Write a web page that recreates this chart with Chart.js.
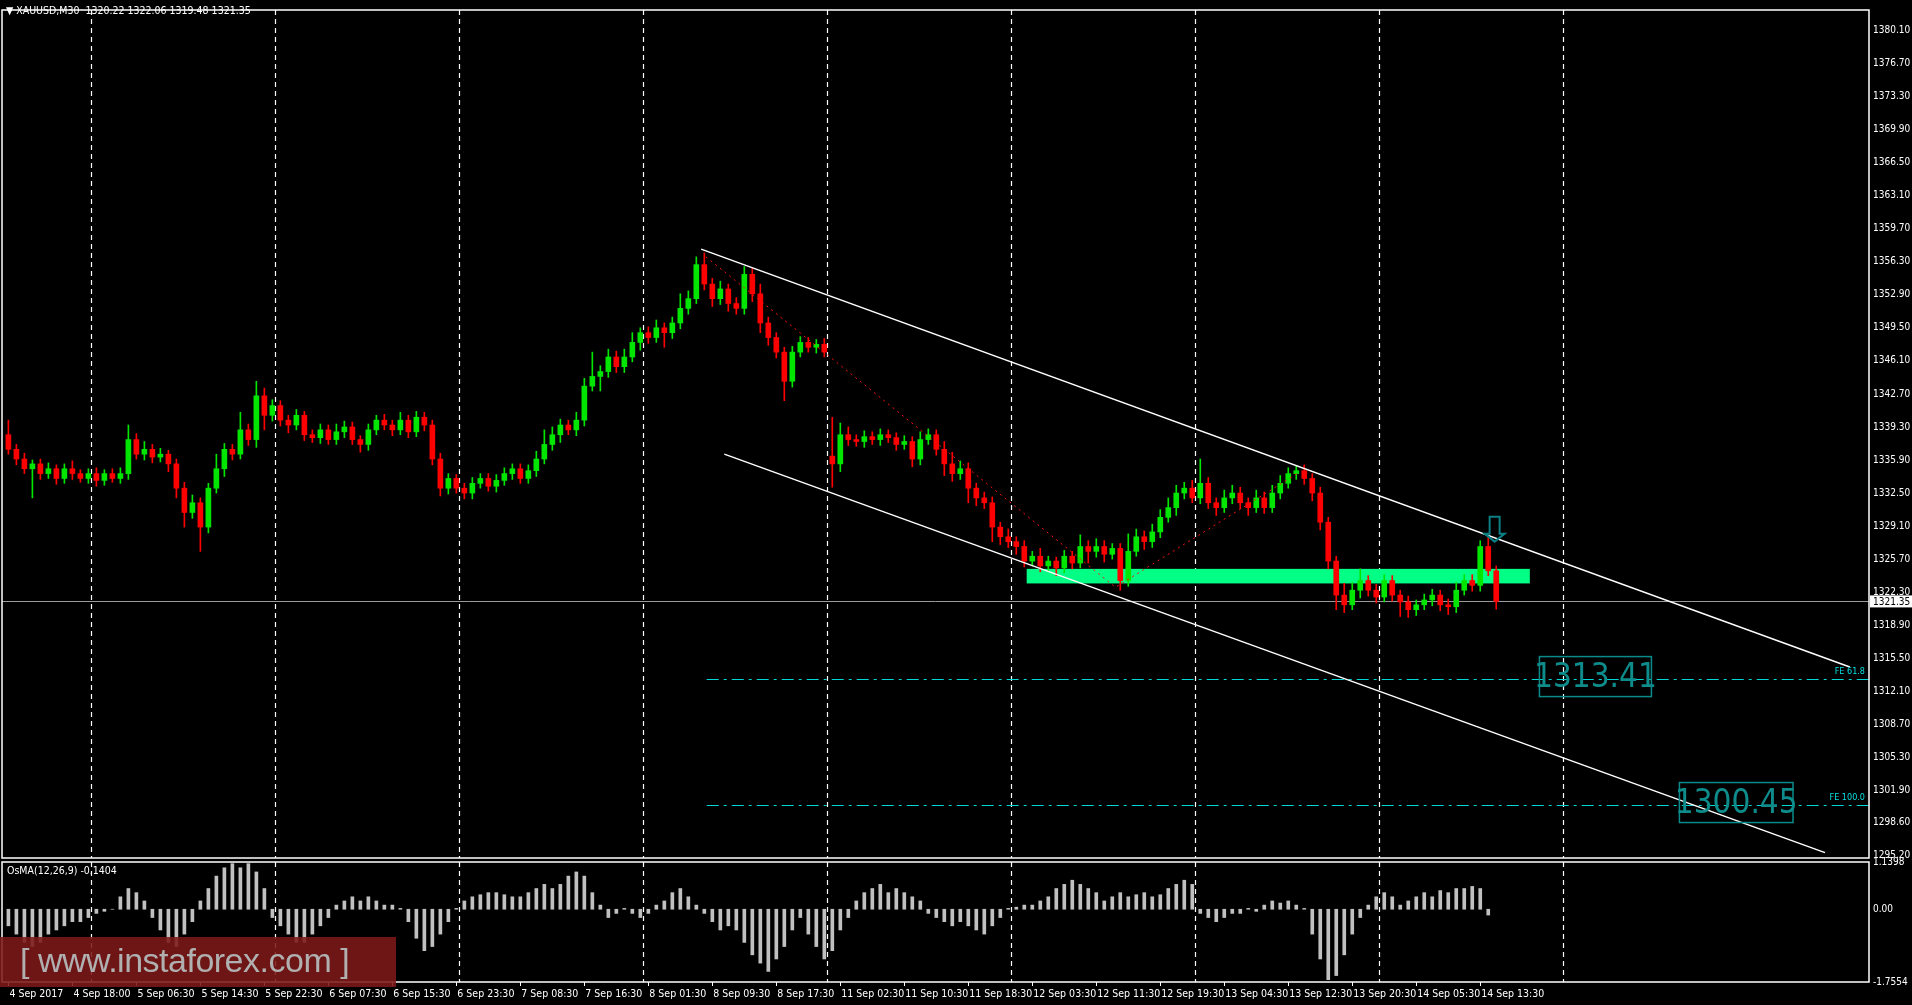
<!DOCTYPE html>
<html><head><meta charset="utf-8">
<script src="https://cdn.jsdelivr.net/npm/chart.js@4/dist/chart.umd.min.js"></script>
<style>
html,body{margin:0;padding:0;background:#000;width:1912px;height:1005px;overflow:hidden;font-family:"DejaVu Sans Condensed","DejaVu Sans",sans-serif}
#c1{position:absolute;left:0;top:0}
#c2{position:absolute;left:0;top:852px}
#hdr{position:absolute;left:6px;top:4px;color:#fff;font-size:10.5px}
#osl{position:absolute;left:7px;top:864px;color:#fff;font-size:10.5px}
#wm{position:absolute;left:0;top:937px;width:396px;height:50px;background:rgba(125,25,25,0.88);color:#b0b0b0;font-family:"Liberation Sans",sans-serif;font-size:34px;line-height:46px;white-space:nowrap;padding-left:20px;box-sizing:border-box;letter-spacing:-0.5px}
</style></head><body>
<canvas id="c1" width="1912" height="868"></canvas>
<canvas id="c2" width="1912" height="153"></canvas>
<div id="hdr">&#9660; XAUUSD,M30&nbsp; 1320.22 1322.06 1319.48 1321.35</div>
<div id="osl">OsMA(12,26,9) -0.1404</div>
<div id="wm">[ www.instaforex.com ]</div>
<script>
const closes=[1337,1336,1335,1335.5,1334.5,1335,1334,1335,1334.5,1334,1334.5,1333.8,1334.5,1334,1334.5,
1338,1336.5,1337,1336.2,1336.5,1335.5,
1333,1330.5,1331.5,1329,
1333,1335,1337,1336.5,1339,1338,
1342.5,1340.5,
1341.5,1340,1339.5,1340.5,1338.5,
1338.2,1339,1338,1338.8,1339.3,1338,1337.5,1339,1340,
1339.5,1339,1340,1338.8,1340.3,1339.5,
1336,1333,1334,
1333,1332.5,1333.5,1334,1333.2,1333.8,
1334.5,1335,1334,1334.8,1336,
1337.5,1338.5,1339.5,1339,1340,
1343.5,1344.5,1345,1346.5,
1345.5,1346.5,1348,
1349,1348.5,1349.5,1349,1350,
1351.5,1352.5,
1356,1354,1352.5,
1353.5,1352,1351.5,
1355,1353,
1350,1348.5,1347,1344,
1347,1348,1347.5,1347.8,1347,
1335.5,1338.5,1338,1337.8,1338.3,1338,1338.5,1338.2,1337.5,1337.8,
1336,1338,1338.5,1337,
1335.5,1334.5,1335,1333,1332,1331.5,
1329,1328,1327.5,1327,
1325.5,1326,1325,1325.5,1324.8,1326,1325.3,
1327,1326.5,1327,1326.2,1326.8,
1323.5,
1326.5,1328,1327.5,1328.5,
1330,1331,1332.5,1333,1332,1333.5,
1331.5,1331,1332,
1332.5,1331.5,1331,1332,1331,1332.5,
1333.5,1334.5,1334.8,
1334,1332.5,1329.5,
1325.5,1322,1321,
1322.5,1323.5,1322.5,1321.8,1323.5,
1322,1321.3,1320.5,
1321,1321.5,1322,1321,1320.8,
1322.5,1323.5,1323,
1327,1324.5,1321.35];
const firstOpen=1338.5;
const gapOpens={103:1336.3};
const upW=[1.5,0.5,0.6,0.4,0.5,0.6,0.4,0.5,0.8,0.4,0.5,0.6,0.4,0.5,0.6,
1.5,0.6,0.8,0.5,0.6,0.4,
0.5,0.6,0.8,0.5,
0.5,1.5,0.6,0.5,1.8,0.6,
1.5,0.8,
0.6,0.5,0.5,0.6,0.4,
0.5,0.6,0.5,0.8,0.6,0.5,0.4,0.6,0.5,
0.6,0.5,0.8,0.5,0.6,0.5,
0.5,0.6,0.5,
0.4,0.5,0.6,0.5,0.5,0.6,
0.6,0.5,0.5,0.6,0.8,
1.5,0.8,0.6,0.5,0.8,
0.8,2.5,0.6,0.8,
0.6,0.8,1.0,
0.5,0.6,0.8,0.5,0.6,
1.5,0.8,
0.8,1.2,0.6,
0.8,0.5,0.6,
0.8,0.6,
1.0,0.6,0.5,0.5,
0.6,0.6,0.5,0.5,0.6,
4.0,1.2,0.8,0.5,0.6,0.5,0.6,0.5,0.5,0.6,
0.5,0.8,0.6,0.5,
0.8,1.2,0.8,0.6,0.5,0.6,
0.6,0.5,0.8,0.5,
0.6,0.5,0.8,0.5,0.4,0.6,0.5,
1.2,0.6,0.8,0.6,0.5,
0.5,
1.8,0.8,0.6,0.8,
0.8,1.0,0.8,0.6,0.8,2.5,
0.6,0.5,0.8,
0.8,0.6,0.5,0.8,0.6,0.8,
0.8,0.6,0.5,
0.6,0.5,0.6,
0.5,0.5,1.2,
0.8,1.2,0.5,0.6,0.6,
0.5,0.5,0.6,
0.5,0.6,0.6,0.5,0.6,
0.8,0.6,0.6,
0.6,1.0,0.5];
const dnW=[0.5,0.6,0.5,3.0,0.6,0.5,0.6,0.5,0.6,0.4,0.5,0.6,0.5,0.4,0.5,
0.6,0.5,0.6,0.6,0.5,0.8,
1.0,1.5,0.6,2.5,
0.6,0.5,0.8,0.6,0.5,0.6,
0.8,1.5,
0.6,0.6,0.8,0.5,0.6,
0.5,0.6,0.5,0.5,0.6,0.5,0.8,0.6,0.5,
0.5,0.6,0.5,0.6,0.5,0.6,
0.6,0.8,0.6,
0.5,0.6,0.6,0.5,0.5,0.6,
0.5,0.6,0.5,0.5,0.6,
0.5,0.6,0.8,0.5,0.6,
0.6,0.5,1.5,0.6,
0.6,0.6,0.5,
0.8,0.6,0.5,1.5,0.6,
0.6,0.6,
0.5,0.6,0.8,
0.6,0.8,0.6,
0.6,0.8,
1.0,0.8,0.6,2.0,
0.6,0.5,0.5,0.6,0.5,
2.4,0.8,0.6,0.5,0.6,0.5,0.6,0.5,0.6,0.5,
0.8,0.6,0.5,0.6,
1.2,0.8,0.6,1.5,0.8,0.6,
1.5,0.8,0.6,0.8,
0.6,0.5,0.6,0.5,0.8,0.5,0.6,
0.5,1.2,0.6,0.8,0.5,
1.0,
0.6,0.5,0.8,0.6,
0.6,0.5,0.8,0.6,0.5,0.6,
0.6,0.8,0.5,
0.6,0.6,0.8,0.5,0.6,0.5,
0.6,0.5,0.6,
0.6,0.8,0.8,
0.8,1.5,0.8,
0.5,0.8,0.6,0.6,0.5,
0.6,1.5,0.8,
0.6,0.5,0.6,0.6,0.8,
0.6,0.5,0.6,
0.6,0.5,0.8];
const osma=[-0.4,-0.6,-0.8,-0.9,-0.8,-0.6,-0.5,-0.4,-0.3,-0.3,-0.2,-0.1,-0.05,0,
0.3,0.5,0.4,0.2,
-0.2,-0.5,-0.8,-0.9,-0.6,-0.3,
0.2,0.5,0.8,1.0,1.1,1.0,1.1,0.9,0.5,
-0.2,-0.4,-0.6,-0.8,-0.8,-0.6,-0.4,-0.2,
0.1,0.2,0.3,0.2,0.3,0.2,0.1,0.1,0.02,
-0.3,-0.7,-1.0,-0.9,-0.6,-0.3,
0.02,0.2,0.3,0.35,0.4,0.4,0.35,0.3,0.3,
0.4,0.5,0.6,0.5,0.6,0.8,0.9,0.8,0.4,
0.1,-0.2,-0.1,0.02,-0.1,
-0.2,-0.1,0.1,0.2,0.4,0.5,0.3,0.1,-0.1,
-0.3,-0.5,-0.4,-0.5,-0.8,-1.1,-1.3,-1.5,-1.2,-0.9,-0.5,
-0.2,-0.6,-0.9,-1.2,-1.0,-0.5,-0.2,
0.2,0.4,0.5,0.6,0.4,0.5,0.4,0.3,0.2,
-0.1,-0.2,-0.3,-0.4,-0.3,-0.4,-0.5,-0.6,-0.4,-0.2,
0.02,0.05,0.1,0.1,0.2,0.3,0.5,0.6,0.7,0.6,0.5,0.4,
0.2,0.3,0.4,0.3,0.35,0.4,0.3,0.35,0.5,0.6,0.7,0.6,
-0.1,-0.2,-0.3,-0.2,-0.1,-0.1,0.02,-0.05,
0.1,0.2,0.15,0.2,0.1,0.02,
-0.6,-1.2,-1.7,-1.6,-1.1,
-0.6,-0.2,0.1,
0.3,0.4,0.3,0.1,
0.2,0.3,0.4,0.3,0.45,0.4,0.5,0.5,0.55,0.5,-0.14];
const timeLabels=["4 Sep 2017","4 Sep 18:00","5 Sep 06:30","5 Sep 14:30","5 Sep 22:30","6 Sep 07:30","6 Sep 15:30","6 Sep 23:30","7 Sep 08:30","7 Sep 16:30","8 Sep 01:30","8 Sep 09:30","8 Sep 17:30","11 Sep 02:30","11 Sep 10:30","11 Sep 18:30","12 Sep 03:30","12 Sep 11:30","12 Sep 19:30","13 Sep 04:30","13 Sep 12:30","13 Sep 20:30","14 Sep 05:30","14 Sep 13:30"];
const priceTicks=[1295.2,1298.6,1301.9,1305.3,1308.7,1312.1,1315.5,1318.9,1322.3,1325.7,1329.1,1332.5,1335.9,1339.3,1342.7,1346.1,1349.5,1352.9,1356.3,1359.7,1363.1,1366.5,1369.9,1373.3,1376.7,1380.1];
const oscTicks=[-1.7554,0,1.1398];
const dayLines=[10.3,33.3,56.3,79.3,102.3,125.3,148.3,171.3,194.3];
const chanUpper=[{x:86.6,y:1357.6},{x:230.2,y:1314.6}];
const chanLower=[{x:89.5,y:1336.5},{x:227.1,y:1295.5}];
const zigzag=[{x:87.2,y:1356.8},{x:138.4,y:1322.8},{x:161.3,y:1334.6}];
const zone={x0:127.3,x1:190.2,y0:1323.2,y1:1324.7};
const fibLevels=[{p:1313.41,name:"FE 61.8",bx:191.4,bw:14},{p:1300.45,name:"FE 100.0",bx:208.9,bw:14.2}];
const fibStart=87.3;
const lastPrice=1321.35;
const arrowPos={x:185.8,y:1327.5};

const XMIN=-0.8,XMAX=232.6;
const opens=closes.map((c,i)=>i===0?firstOpen:(gapOpens[i]!==undefined?gapOpens[i]:closes[i-1]));
const bodies=closes.map((c,i)=>({x:i,y:[opens[i],c===opens[i]?c+0.05:c]}));
const wicks=closes.map((c,i)=>({x:i,y:[Math.min(opens[i],c)-dnW[i],Math.max(opens[i],c)+upW[i]]}));
const cols=closes.map((c,i)=>c>=opens[i]?'#00e600':'#ff0000');

function dashedV(chart){
  const {ctx,chartArea:a,scales:{x}}=chart;
  ctx.save();ctx.strokeStyle='#fff';ctx.lineWidth=1.2;ctx.setLineDash([5,4]);
  dayLines.forEach(d=>{const px=Math.round(x.getPixelForValue(d))+0.5;ctx.beginPath();ctx.moveTo(px,a.top);ctx.lineTo(px,a.bottom);ctx.stroke();});
  ctx.restore();
}
const frame={id:'frame',afterDraw(chart){const {ctx,chartArea:a}=chart;ctx.save();ctx.strokeStyle='#fff';ctx.lineWidth=1.5;ctx.strokeRect(a.left,a.top,a.right-a.left,a.bottom-a.top);ctx.restore();}};

const topPlug={id:'topPlug',
 beforeDatasetsDraw(chart){
  dashedV(chart);
  const {ctx,chartArea:a,scales:{x,y}}=chart;
  ctx.save();
  ctx.fillStyle='#00ff84';
  const zx0=x.getPixelForValue(zone.x0),zx1=x.getPixelForValue(zone.x1),zy0=y.getPixelForValue(zone.y1),zy1=y.getPixelForValue(zone.y0);
  ctx.fillRect(zx0,zy0,zx1-zx0,zy1-zy0);
  const ly=Math.round(y.getPixelForValue(lastPrice))+0.5;
  ctx.strokeStyle='#9a9a9a';ctx.lineWidth=1;ctx.beginPath();ctx.moveTo(a.left,ly);ctx.lineTo(a.right,ly);ctx.stroke();
  ctx.strokeStyle='#00d8d8';ctx.setLineDash([12,5,3,5]);
  fibLevels.forEach(f=>{const py=Math.round(y.getPixelForValue(f.p))+0.5;ctx.beginPath();ctx.moveTo(x.getPixelForValue(fibStart),py);ctx.lineTo(a.right,py);ctx.stroke();});
  ctx.setLineDash([]);
  ctx.restore();
 },
 afterDatasetsDraw(chart){
  const {ctx,chartArea:a,scales:{x,y}}=chart;
  ctx.save();
  ctx.font='9px "DejaVu Sans Condensed"';ctx.fillStyle='#00e0e0';ctx.textAlign='right';ctx.textBaseline='bottom';
  fibLevels.forEach(f=>{const py=y.getPixelForValue(f.p);ctx.fillText(f.name,a.right-4,py-2);
    const bx=x.getPixelForValue(f.bx),bw=x.getPixelForValue(f.bx+f.bw)-bx;
    ctx.strokeStyle='#0a8a8a';ctx.lineWidth=1.5;ctx.strokeRect(bx,py-22,bw,40);
    ctx.save();ctx.font='33px "DejaVu Sans Condensed"';ctx.fillStyle='#0e8c8c';ctx.textAlign='center';ctx.textBaseline='middle';
    ctx.fillText(f.p.toFixed(2),bx+bw/2,py);ctx.restore();
  });
  const ax=x.getPixelForValue(arrowPos.x),ay=y.getPixelForValue(arrowPos.y);
  ctx.strokeStyle='#0b7f84';ctx.lineWidth=2;ctx.beginPath();
  ctx.moveTo(ax-5,ay-25);ctx.lineTo(ax+5,ay-25);ctx.lineTo(ax+5,ay-8);ctx.lineTo(ax+10,ay-8);ctx.lineTo(ax,ay);ctx.lineTo(ax-10,ay-8);ctx.lineTo(ax-5,ay-8);ctx.closePath();ctx.stroke();
  const ly=y.getPixelForValue(lastPrice);
  ctx.fillStyle='#fff';ctx.fillRect(a.right+1,ly-6,42,12);
  ctx.fillStyle='#000';ctx.font='10px "DejaVu Sans Condensed"';ctx.textAlign='left';ctx.textBaseline='middle';ctx.fillText(lastPrice.toFixed(2),a.right+4,ly+0.5);
  ctx.restore();
 }};

new Chart(document.getElementById('c1'),{
 type:'bar',
 data:{datasets:[
  {type:'line',data:chanUpper,borderColor:'#fff',borderWidth:1.5,pointRadius:0,order:0},
  {type:'line',data:chanLower,borderColor:'#fff',borderWidth:1.5,pointRadius:0,order:0},
  {type:'line',data:zigzag,borderColor:'#ff1010',borderWidth:1,borderDash:[2,4],pointRadius:0,order:0},
  {data:wicks,backgroundColor:cols,barThickness:1,grouped:false,order:2},
  {data:bodies,backgroundColor:cols,barThickness:5,grouped:false,order:1}
 ]},
 options:{animation:false,responsive:false,events:[],
  layout:{padding:{top:4,left:2,bottom:1,right:0}},
  plugins:{legend:{display:false},tooltip:{enabled:false}},
  scales:{
   x:{type:'linear',min:XMIN,max:XMAX,display:false,offset:false},
   y:{position:'right',min:1294.95,max:1382.2,
     afterBuildTicks(s){s.ticks=priceTicks.map(v=>({value:v}));},
     afterFit(s){s.width=43;},
     grid:{display:false,drawTicks:false},border:{display:false},
     ticks:{color:'#fff',font:{size:10,family:'DejaVu Sans Condensed'},padding:4,callback:v=>v.toFixed(2)}}
  }},
 plugins:[topPlug,frame]
});

const botPlug={id:'botPlug',beforeDatasetsDraw(chart){dashedV(chart);},
 afterDraw(chart){const {ctx,chartArea:a,scales:{x}}=chart;ctx.save();ctx.strokeStyle='#fff';ctx.lineWidth=1;
  timeLabels.forEach((t,i)=>{const px=Math.round(x.getPixelForValue(i*8))+0.5;ctx.beginPath();ctx.moveTo(px,a.bottom);ctx.lineTo(px,a.bottom+4);ctx.stroke();});
  ctx.fillStyle='#fff';ctx.font='10.5px "DejaVu Sans Condensed"';ctx.textBaseline='top';
  timeLabels.forEach((t,i)=>{const px=x.getPixelForValue(i*8);ctx.fillText(t,px+1,a.bottom+7);});
  ctx.restore();}};

new Chart(document.getElementById('c2'),{
 type:'bar',
 data:{datasets:[{data:osma.map((v,i)=>({x:i,y:v})),backgroundColor:'#c0c0c0',barThickness:3}]},
 options:{animation:false,responsive:false,events:[],
  layout:{padding:{top:4,left:2,bottom:23,right:0}},
  plugins:{legend:{display:false},tooltip:{enabled:false}},
  scales:{
   x:{type:'linear',min:XMIN,max:XMAX,display:false,offset:false},
   y:{position:'right',min:-1.7554,max:1.1398,
     afterBuildTicks(s){s.ticks=oscTicks.map(v=>({value:v}));},
     afterFit(s){s.width=43;},
     grid:{display:false,drawTicks:false},border:{display:false},
     ticks:{color:'#fff',font:{size:10,family:'DejaVu Sans Condensed'},padding:4,
       callback:v=>v===0?'0.00':v.toFixed(4)}}
  }},
 plugins:[botPlug,frame]
});
</script></body></html>
